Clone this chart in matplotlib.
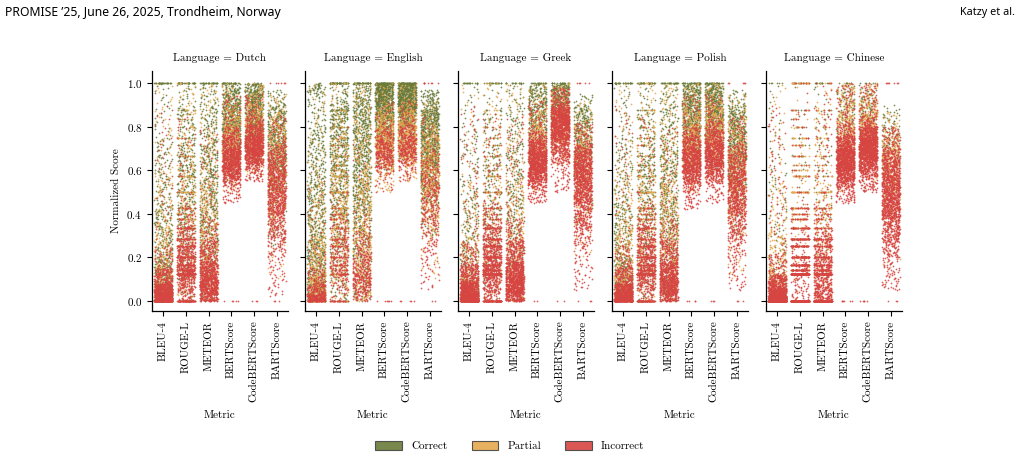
import numpy as np
import matplotlib
matplotlib.use("Agg")
import matplotlib.pyplot as plt
from matplotlib.patches import Patch

plt.rcParams['font.family'] = 'serif'
plt.rcParams['font.serif'] = ['cmr10']
plt.rcParams['mathtext.fontset'] = 'cm'
plt.rcParams['axes.formatter.use_mathtext'] = True

languages = ["Dutch", "English", "Greek", "Polish", "Chinese"]
metrics = ["BLEU-4", "ROUGE-L", "METEOR", "BERTScore", "CodeBERTScore", "BARTScore"]
classes = ["Correct", "Partial", "Incorrect"]
colors = ["#6b7b3a", "#e6a94f", "#d64541"]

# points per class (Correct, Partial, Incorrect), read roughly from density
counts = {
    "Dutch":   [600, 420, 900],
    "English": [900, 520, 360],
    "Greek":   [340, 320, 1100],
    "Polish":  [560, 440, 850],
    "Chinese": [120, 340, 1300],
}

# quantiles of each score at these probabilities
probs = [0, 0.05, 0.1, 0.25, 0.5, 0.75, 0.9, 0.95, 1]

# rows: BLEU-4, ROUGE-L, METEOR, BERTScore, CodeBERTScore, BARTScore
dutch_correct = [
    [0, 0, 0.02, 0.08, 0.2, 0.45, 0.75, 1, 1],
    [0, 0.1, 0.15, 0.3, 0.5, 0.7, 0.9, 1, 1],
    [0, 0.08, 0.15, 0.3, 0.5, 0.72, 0.9, 1, 1],
    [0.55, 0.65, 0.7, 0.77, 0.84, 0.91, 0.97, 1, 1],
    [0.62, 0.7, 0.74, 0.8, 0.87, 0.93, 0.97, 0.99, 1],
    [0.25, 0.4, 0.5, 0.6, 0.7, 0.8, 0.87, 0.9, 0.97],
]
dutch_partial = [
    [0, 0, 0.01, 0.05, 0.15, 0.35, 0.6, 0.8, 1],
    [0, 0.05, 0.1, 0.2, 0.38, 0.58, 0.8, 0.9, 1],
    [0, 0.05, 0.08, 0.18, 0.35, 0.55, 0.78, 0.9, 1],
    [0.5, 0.58, 0.62, 0.68, 0.74, 0.81, 0.88, 0.92, 1],
    [0.58, 0.64, 0.67, 0.72, 0.78, 0.85, 0.91, 0.95, 1],
    [0.1, 0.3, 0.38, 0.5, 0.62, 0.73, 0.82, 0.87, 0.95],
]
dutch_incorrect = [
    [0, 0, 0, 0.01, 0.04, 0.08, 0.15, 0.25, 0.9],
    [0, 0, 0.04, 0.1, 0.16, 0.25, 0.35, 0.45, 0.85],
    [0, 0.01, 0.03, 0.06, 0.11, 0.18, 0.28, 0.38, 0.8],
    [0.45, 0.53, 0.56, 0.6, 0.65, 0.7, 0.76, 0.8, 0.95],
    [0.55, 0.6, 0.63, 0.67, 0.71, 0.76, 0.81, 0.85, 0.95],
    [0.02, 0.2, 0.28, 0.4, 0.5, 0.6, 0.68, 0.72, 0.85],
]

english_correct = [
    [0, 0.01, 0.03, 0.1, 0.28, 0.55, 0.8, 0.95, 1],
    [0, 0.1, 0.2, 0.38, 0.6, 0.8, 0.92, 1, 1],
    [0, 0.1, 0.2, 0.4, 0.62, 0.82, 0.94, 1, 1],
    [0.6, 0.72, 0.76, 0.83, 0.9, 0.96, 0.99, 1, 1],
    [0.65, 0.76, 0.8, 0.86, 0.91, 0.96, 0.99, 1, 1],
    [0.3, 0.45, 0.52, 0.62, 0.72, 0.82, 0.88, 0.92, 0.97],
]
english_partial = [
    [0, 0, 0.01, 0.04, 0.12, 0.3, 0.55, 0.75, 1],
    [0, 0.08, 0.12, 0.25, 0.42, 0.6, 0.78, 0.88, 1],
    [0, 0.04, 0.08, 0.18, 0.35, 0.58, 0.8, 0.9, 1],
    [0.5, 0.58, 0.62, 0.68, 0.74, 0.8, 0.86, 0.9, 1],
    [0.55, 0.62, 0.65, 0.7, 0.76, 0.82, 0.88, 0.92, 1],
    [0.1, 0.3, 0.37, 0.48, 0.58, 0.68, 0.77, 0.82, 0.92],
]
english_incorrect = [
    [0, 0, 0, 0.01, 0.03, 0.08, 0.15, 0.25, 0.6],
    [0, 0, 0.05, 0.12, 0.2, 0.3, 0.4, 0.5, 0.8],
    [0, 0.02, 0.04, 0.08, 0.13, 0.22, 0.32, 0.42, 0.75],
    [0.5, 0.58, 0.61, 0.65, 0.69, 0.74, 0.79, 0.83, 0.92],
    [0.55, 0.6, 0.63, 0.67, 0.71, 0.76, 0.81, 0.85, 0.92],
    [0.05, 0.15, 0.22, 0.35, 0.47, 0.57, 0.65, 0.7, 0.85],
]

greek_correct = [
    [0, 0.01, 0.03, 0.1, 0.25, 0.5, 0.8, 1, 1],
    [0, 0.1, 0.17, 0.3, 0.5, 0.7, 0.88, 1, 1],
    [0, 0.08, 0.15, 0.3, 0.5, 0.72, 0.9, 1, 1],
    [0.6, 0.7, 0.74, 0.8, 0.87, 0.94, 0.98, 1, 1],
    [0.72, 0.8, 0.84, 0.89, 0.93, 0.97, 0.99, 1, 1],
    [0.35, 0.5, 0.58, 0.68, 0.76, 0.83, 0.88, 0.9, 0.95],
]
greek_partial = [
    [0, 0, 0.01, 0.04, 0.12, 0.3, 0.55, 0.75, 1],
    [0, 0.05, 0.1, 0.2, 0.38, 0.58, 0.8, 0.9, 1],
    [0, 0.04, 0.08, 0.17, 0.33, 0.55, 0.78, 0.9, 1],
    [0.5, 0.58, 0.62, 0.68, 0.74, 0.81, 0.88, 0.93, 1],
    [0.62, 0.68, 0.72, 0.77, 0.83, 0.88, 0.93, 0.96, 1],
    [0.2, 0.35, 0.42, 0.53, 0.63, 0.72, 0.8, 0.84, 0.92],
]
greek_incorrect = [
    [0, 0, 0, 0.01, 0.04, 0.09, 0.17, 0.27, 0.9],
    [0, 0, 0.04, 0.1, 0.17, 0.26, 0.36, 0.46, 0.85],
    [0, 0.01, 0.03, 0.06, 0.11, 0.18, 0.28, 0.38, 0.85],
    [0.45, 0.52, 0.55, 0.59, 0.64, 0.69, 0.74, 0.78, 0.92],
    [0.5, 0.63, 0.67, 0.74, 0.8, 0.85, 0.89, 0.92, 0.98],
    [0.05, 0.25, 0.33, 0.45, 0.55, 0.63, 0.69, 0.72, 0.82],
]

polish_correct = [
    [0, 0.01, 0.03, 0.08, 0.2, 0.45, 0.75, 1, 1],
    [0, 0.08, 0.14, 0.28, 0.48, 0.68, 0.88, 1, 1],
    [0, 0.07, 0.13, 0.28, 0.48, 0.7, 0.9, 1, 1],
    [0.55, 0.68, 0.72, 0.79, 0.86, 0.93, 0.98, 1, 1],
    [0.6, 0.72, 0.76, 0.82, 0.88, 0.94, 0.98, 1, 1],
    [0.3, 0.45, 0.53, 0.63, 0.72, 0.81, 0.87, 0.9, 0.97],
]
polish_partial = [
    [0, 0, 0.01, 0.05, 0.15, 0.35, 0.6, 0.8, 1],
    [0, 0.05, 0.1, 0.2, 0.38, 0.58, 0.8, 0.9, 1],
    [0, 0.05, 0.08, 0.18, 0.35, 0.55, 0.78, 0.9, 1],
    [0.5, 0.58, 0.62, 0.68, 0.74, 0.81, 0.88, 0.93, 1],
    [0.55, 0.62, 0.66, 0.71, 0.77, 0.84, 0.9, 0.94, 1],
    [0.1, 0.3, 0.38, 0.5, 0.6, 0.7, 0.8, 0.85, 0.95],
]
polish_incorrect = [
    [0, 0, 0, 0.01, 0.04, 0.08, 0.16, 0.26, 0.9],
    [0, 0, 0.05, 0.1, 0.17, 0.26, 0.36, 0.46, 0.85],
    [0, 0.01, 0.03, 0.06, 0.11, 0.18, 0.28, 0.38, 0.8],
    [0.42, 0.5, 0.54, 0.59, 0.64, 0.7, 0.76, 0.8, 0.95],
    [0.45, 0.54, 0.57, 0.62, 0.67, 0.73, 0.79, 0.83, 0.95],
    [0.05, 0.2, 0.28, 0.4, 0.5, 0.6, 0.68, 0.72, 0.85],
]

chinese_correct = [
    [0, 0.02, 0.05, 0.15, 0.35, 0.6, 0.85, 1, 1],
    [0, 0.1, 0.2, 0.4, 0.6, 0.8, 1, 1, 1],
    [0, 0.1, 0.2, 0.35, 0.55, 0.8, 1, 1, 1],
    [0.6, 0.72, 0.76, 0.82, 0.88, 0.94, 0.98, 1, 1],
    [0.65, 0.75, 0.78, 0.83, 0.88, 0.93, 0.97, 1, 1],
    [0.4, 0.55, 0.6, 0.68, 0.74, 0.8, 0.85, 0.87, 0.9],
]
chinese_partial = [
    [0, 0, 0.01, 0.05, 0.14, 0.32, 0.55, 0.75, 1],
    [0, 0, 0.1, 0.25, 0.4, 0.6, 0.8, 1, 1],
    [0, 0.05, 0.1, 0.2, 0.37, 0.55, 0.8, 0.9, 1],
    [0.5, 0.6, 0.64, 0.7, 0.77, 0.85, 0.93, 0.97, 1],
    [0.55, 0.64, 0.68, 0.74, 0.8, 0.86, 0.92, 0.96, 1],
    [0.15, 0.35, 0.42, 0.53, 0.63, 0.7, 0.76, 0.8, 0.87],
]
chinese_incorrect = [
    [0, 0, 0, 0, 0.02, 0.06, 0.12, 0.22, 0.9],
    [0, 0, 0, 0, 0.1, 0.2, 0.33, 0.45, 1],
    [0, 0, 0, 0, 0.08, 0.2, 0.32, 0.45, 1],
    [0.45, 0.52, 0.55, 0.6, 0.65, 0.7, 0.76, 0.82, 1],
    [0.5, 0.57, 0.6, 0.65, 0.7, 0.75, 0.8, 0.85, 1],
    [0.05, 0.2, 0.27, 0.38, 0.48, 0.58, 0.66, 0.7, 0.8],
]

quantiles = {
    "Dutch":   [dutch_correct, dutch_partial, dutch_incorrect],
    "English": [english_correct, english_partial, english_incorrect],
    "Greek":   [greek_correct, greek_partial, greek_incorrect],
    "Polish":  [polish_correct, polish_partial, polish_incorrect],
    "Chinese": [chinese_correct, chinese_partial, chinese_incorrect],
}

# share of ROUGE-L / METEOR scores sitting on simple fractions (visible bands)
rouge_band_share = {"Dutch": 0.35, "English": 0.35, "Greek": 0.4, "Polish": 0.4, "Chinese": 0.85}
meteor_band_share = {"Dutch": 0.0, "English": 0.0, "Greek": 0.0, "Polish": 0.0, "Chinese": 0.45}

# few incorrect points at exactly 0 for BERTScore, CodeBERTScore, BARTScore, and at 1 for BARTScore
zero_dots = {"Dutch": [5, 3, 3], "English": [6, 5, 2], "Greek": [2, 2, 3], "Polish": [4, 3, 3], "Chinese": [6, 5, 3]}
bart_top_dots = {"Dutch": 6, "English": 8, "Greek": 5, "Polish": 5, "Chinese": 7}

fractions = np.unique([a / b for b in range(1, 9) for a in range(0, b + 1)])


def jitter(n, seed):
    # deterministic scatter of the x offset inside a strip, as a strip plot does
    i = np.arange(n) + seed * 7919.0
    return (np.sin(i * 12.9898 + 78.233) * 43758.5453) % 1


def snap(v):
    idx = np.abs(v[:, None] - fractions[None, :]).argmin(axis=1)
    return fractions[idx]


fig = plt.figure(figsize=(10.2, 4.57), dpi=100)
lefts = [152, 305, 458, 612, 766]
seed = 0
for k, lang in enumerate(languages):
    ax = fig.add_axes([lefts[k] / 1020, 0.3195, 136 / 1020, 0.525])
    for m, met in enumerate(metrics):
        for c, cls in enumerate(classes):
            n = counts[lang][c]
            seed += 1
            u = (np.arange(n) + 0.5) / n
            vals = np.interp(u, probs, quantiles[lang][c][m])
            share = 0
            if met == "ROUGE-L":
                share = rouge_band_share[lang]
            elif met == "METEOR":
                share = meteor_band_share[lang]
            if share > 0:
                pick = ((np.arange(n) * 0.41421356) % 1) < share
                vals[pick] = snap(vals[pick])
            if cls == "Incorrect":
                extra = []
                if m >= 3:
                    extra += [0.0] * zero_dots[lang][m - 3]
                if met == "BARTScore":
                    extra += [1.0] * bart_top_dots[lang]
                vals = np.concatenate([vals, extra])
            xs = m + (jitter(len(vals), seed) - 0.5) * 0.8
            ax.scatter(xs, vals, s=1.6, marker='o', color=colors[c], alpha=0.85,
                       linewidths=0, rasterized=True)
    ax.set_xlim(-0.5, 5.5)
    ax.set_ylim(-0.046, 1.055)
    ax.set_xticks(range(len(metrics)))
    ax.set_xticklabels(metrics, rotation=90, fontsize=8)
    ax.set_yticks([0, 0.2, 0.4, 0.6, 0.8, 1.0])
    ax.tick_params(labelsize=8, length=3.5, width=0.8)
    if k == 0:
        ax.set_ylabel("Normalized Score", fontsize=8)
    else:
        ax.set_yticklabels([])
    ax.set_xlabel("Metric", fontsize=8, labelpad=6)
    ax.set_title(f"Language = {lang}", fontsize=8, pad=7)
    for side in ["top", "right"]:
        ax.spines[side].set_visible(False)
    for side in ["left", "bottom"]:
        ax.spines[side].set_linewidth(0.9)

handles = [Patch(facecolor=col, edgecolor="#444444", linewidth=0.8, alpha=0.9, label=cl)
           for col, cl in zip(colors, classes)]
fig.legend(handles=handles, loc="center", bbox_to_anchor=(0.5, 0.024), ncol=3,
           frameon=False, fontsize=8, handlelength=2.4, handleheight=0.9, columnspacing=2.2)

fig.text(0.005, 0.972, "PROMISE \u201925, June 26, 2025, Trondheim, Norway", family="Noto Sans",
         fontsize=8.8, ha="left", va="center")
fig.text(0.995, 0.972, "Katzy et al.", family="Noto Sans", fontsize=7.8, ha="right", va="center")

fig.savefig("out.png", dpi=100)
